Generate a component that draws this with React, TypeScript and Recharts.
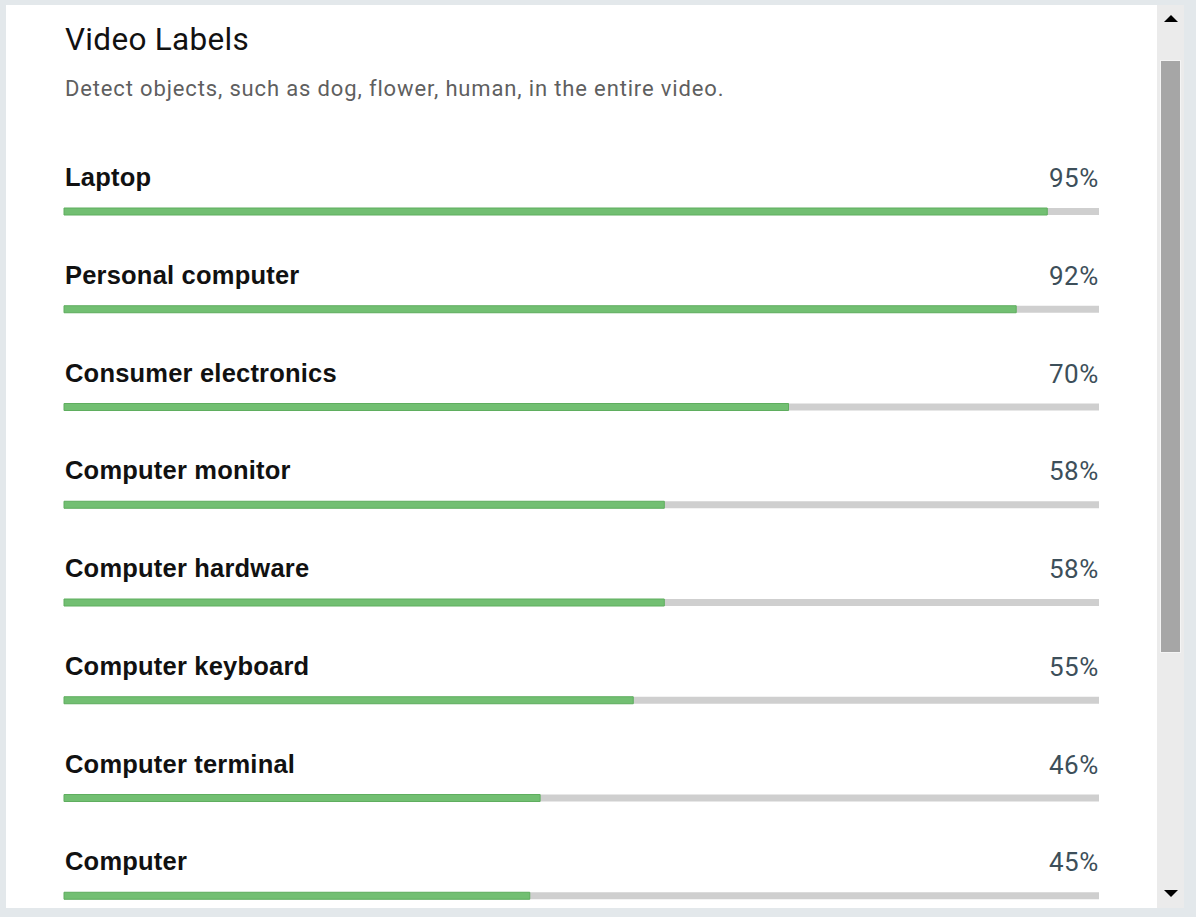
import { Bar, BarChart, LabelList, XAxis, YAxis } from "recharts";

const labels = [
  "Laptop",
  "Personal computer",
  "Consumer electronics",
  "Computer monitor",
  "Computer hardware",
  "Computer keyboard",
  "Computer terminal",
  "Computer",
];
const confidence = [95, 92, 70, 58, 58, 55, 46, 45];

const rows = labels.map((name, i) => ({ name, score: confidence[i] }));

// nom + pourcentage au-dessus de chaque barre
function RowLabel(props: any) {
  const { x, y, index } = props;
  return (
    <g>
      <text
        x={x + 1}
        y={y - 22}
        fill="#111"
        fontFamily="'Liberation Sans', Arial, sans-serif"
        fontWeight={700}
        fontSize={25.5}
        letterSpacing={0.2}
      >
        {labels[index]}
      </text>
      <text
        x={1093}
        y={y - 21}
        fill="#3d4f5a"
        textAnchor="end"
        fontFamily="Roboto, sans-serif"
        fontSize={26}
        letterSpacing={0.6}
      >
        {confidence[index]}%
      </text>
    </g>
  );
}

export default function App() {
  return (
    <div
      style={{
        position: "fixed",
        top: 0,
        left: 0,
        width: 1196,
        height: 917,
        background: "#e3e8eb",
        overflow: "hidden",
      }}
    >
      <div
        style={{
          position: "absolute",
          left: 6,
          top: 5,
          width: 1151,
          height: 903,
          background: "#fff",
          overflow: "hidden",
        }}
      >
        <div
          style={{
            position: "absolute",
            left: 59,
            top: 16,
            fontFamily: "Roboto, sans-serif",
            fontSize: 31.5,
            letterSpacing: 0.3,
            color: "#111",
            lineHeight: "38px",
          }}
        >
          Video Labels
        </div>
        <div
          style={{
            position: "absolute",
            left: 59,
            top: 70,
            fontFamily: "Roboto, sans-serif",
            fontSize: 22,
            letterSpacing: 0.85,
            color: "#5f5f5f",
            lineHeight: "28px",
          }}
        >
          Detect objects, such as dog, flower, human, in the entire video.
        </div>
        <div style={{ position: "absolute", left: 0, top: 0 }}>
          <BarChart
            width={1151}
            height={960}
            data={rows}
            layout="vertical"
            margin={{ top: 158, right: 58, bottom: 20, left: 58 }}
          >
            <XAxis type="number" domain={[0, 100]} hide />
            <YAxis type="category" dataKey="name" hide width={0} />
            <Bar
              dataKey="score"
              barSize={7}
              fill="#72bf72"
              stroke="#5fae5f"
              strokeWidth={1}
              background={{ fill: "#cfcfcf" }}
              isAnimationActive={false}
            >
              <LabelList dataKey="score" content={<RowLabel />} />
            </Bar>
          </BarChart>
        </div>
      </div>
      {/* barre de défilement */}
      <div
        style={{
          position: "absolute",
          left: 1157,
          top: 5,
          width: 27,
          height: 903,
          background: "#ebebeb",
        }}
      >
        <div
          style={{
            position: "absolute",
            left: 6.5,
            top: 10,
            width: 0,
            height: 0,
            borderLeft: "7px solid transparent",
            borderRight: "7px solid transparent",
            borderBottom: "7px solid #000",
          }}
        />
        <div
          style={{
            position: "absolute",
            left: 3,
            top: 55,
            width: 21,
            height: 593,
            background: "#a6a6a6",
            border: "1px solid #f4f4f4",
            boxSizing: "border-box",
          }}
        />
        <div
          style={{
            position: "absolute",
            left: 6.5,
            top: 885,
            width: 0,
            height: 0,
            borderLeft: "7px solid transparent",
            borderRight: "7px solid transparent",
            borderTop: "7px solid #000",
          }}
        />
      </div>
    </div>
  );
}
